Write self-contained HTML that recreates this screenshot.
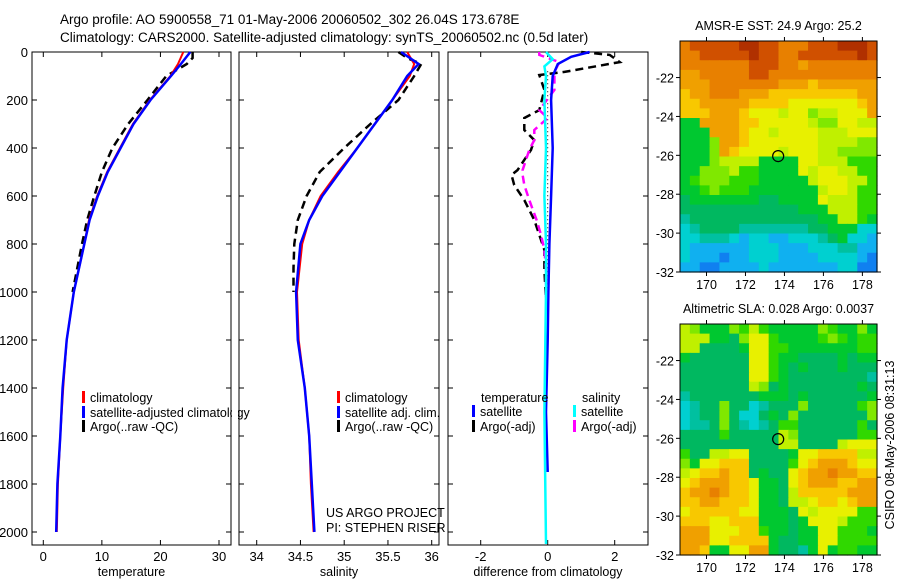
<!DOCTYPE html>
<html><head><meta charset="utf-8">
<style>
html,body{margin:0;padding:0;background:#fff;}
svg{display:block;font-family:"Liberation Sans",sans-serif;}
</style></head>
<body>
<svg id="chart" width="900" height="580" viewBox="0 0 900 580" xmlns="http://www.w3.org/2000/svg">
<rect width="900" height="580" fill="#fff"/>
<text x="60" y="24" font-size="13.5">Argo profile: AO 5900558_71 01-May-2006 20060502_302 26.04S 173.678E</text>
<text x="60" y="42" font-size="13.5">Climatology: CARS2000. Satellite-adjusted climatology: synTS_20060502.nc (0.5d later)</text>
<g id="g"></g>
</svg>
<script>
// ---------- data ----------
const depthTicks=[0,200,400,600,800,1000,1200,1400,1600,1800,2000];
const tempTicks=[0,10,20,30];
const salTicks=[34,34.5,35,35.5,36];
const salTickLabels=["34","34.5","35","35.5","36"];
const diffTicks=[-2,0,2];
const climDepth=[0,50,100,200,300,400,500,600,700,800,1000,1200,1400,1600,1800,2000];
const climTemp=[23.9,23.0,21.7,18.2,15.3,13.1,10.9,9.2,7.8,7.0,5.2,4.0,3.4,2.9,2.5,2.3];
const satTemp=[25.1,23.5,21.8,18.3,15.4,13.2,11.0,9.3,7.9,7.0,5.2,4.0,3.3,2.9,2.4,2.2];
const argoDepth=[0,25,50,100,200,300,400,500,600,700,800,900,1000];
const argoTemp=[25.5,25.5,24.5,21.0,17.8,14.5,11.8,10.0,8.7,7.5,6.6,5.8,5.0];
const climSal=[35.72,35.8,35.75,35.55,35.35,35.15,34.93,34.73,34.6,34.52,34.46,34.48,34.55,34.6,34.62,34.65];
const satSal=[35.65,35.85,35.72,35.55,35.35,35.15,34.95,34.75,34.6,34.5,34.45,34.47,34.55,34.6,34.63,34.66];
const argoSal=[35.62,35.72,35.88,35.8,35.62,35.3,35.0,34.72,34.57,34.47,34.43,34.42,34.42];
const diffDepth=[0,12,42,83,96,158,242,275,325,367,408,492,512,554,617,700,762,825,908,1033];
const diffArgoT=[1.0,1.85,2.15,0.5,-0.25,-0.1,-0.25,-0.7,-0.7,-0.4,-0.5,-0.9,-1.08,-1.0,-0.7,-0.4,-0.25,-0.1,-0.1,-0.05];
const diffArgoS=[-0.25,-0.25,0.35,0.2,0.2,0.2,-0.25,0,-0.4,-0.4,-0.55,-0.75,-0.75,-0.7,-0.55,-0.33,-0.2,-0.1,-0.05,-0.05];
const satDiffDepth=[0,20,50,100,200,400,600,800,1000,1200,1500,1750];
const satDiffT=[1.25,0.7,0.3,0.15,0.1,0.15,0.1,0.05,0.02,0,-0.05,0];
const satDiffSDepth=[0,30,60,100,200,400,600,800,1000,1500,2050];
const satDiffS=[-0.05,0.15,-0.1,-0.05,-0.1,-0.05,-0.1,-0.05,-0.05,-0.1,-0.05];
const mapLonTicks=[170,172,174,176,178];
const mapLatTicks=[-22,-24,-26,-28,-30,-32];
const palette=["#b03000","#d05000","#e88000","#f0a000","#f8c800","#e8f000","#c0f000","#80e800","#30d800","#00c830","#00b860","#00c0a0","#00d0d0","#10b0f0","#1080f0"];
const sstRows=["21111100112221110001","22111110112211111101","22222221112232222222","33222221122222222222","33322222223334333333","43322233344444444433","44333334444555555543","44433345556557665553","99333344555556775566","99933345565555666555","99973345555555666677","99973455556555667777","99976666999955666888","99777688999956556688","98777888999996555668","99878889999999655688","a9999999aa9999566688","aaaaaaaaaaaa99966688","baaaaaaaaaaaaa996689","cbaaaabbbbbbbaa999cc","ccbbbcdccddcccba9ccd","cddddddcccdddcccbbdd","cdddeddcccddddccccde","ddeeddddcdddddddccee"];
const slaRows=["67999786899999789979","66699a75589999878988","66aaaa95588999999988","9aaaaaa55899aaaa9a99","aaaaaaa5589a9aaa9aaa","aaaaaaa5589aaaaaaaab","aaaaaaa67a9aaaaaaa9a","baaaaaaa999a9aaaaaa9","cbaa7aacbaaa7aaaaa87","cbaa7acca9a7aaaaaaa7","cbba7abcba88aaaaaa8a","aaaa8aaaaa67aaaaaa88","aaaaaaaaaa66aaaa6555","8aa6655aaaa955444466","7955444aaaa854333455","6544344a9aa543323344","5433344599a543334433","4332344599a644444333","4433444599a665445433","54444455999a56555588","44455444999a95556888","33355544899a99558889","3335544449aa99558888","3349955339aab9598899"];
const floatLon=173.678, floatLat=-26.04;

// ---------- helpers ----------
const NS="http://www.w3.org/2000/svg";
const G=document.getElementById('g');
function mk(tag,attrs,parent){const e=document.createElementNS(NS,tag);for(const k in attrs)e.setAttribute(k,attrs[k]);(parent||G).appendChild(e);return e;}
const Y0=52,Y1=545;
function yD(d){return Y0+d*0.24;}
function linScale(d0,d1,r0,r1){return v=>r0+(v-d0)*(r1-r0)/(d1-d0);}
const panels=[
 {x0:32,x1:231,sx:linScale(0,30,43.3,219),ticks:tempTicks,labels:tempTicks.map(String),xlabel:"temperature",name:"temperature-panel"},
 {x0:239,x1:439,sx:linScale(34,36,256.7,431.7),ticks:salTicks,labels:salTickLabels,xlabel:"salinity",name:"salinity-panel"},
 {x0:448,x1:648,sx:linScale(-2,2,480.7,614.7),ticks:diffTicks,labels:diffTicks.map(String),xlabel:"difference from climatology",name:"difference-panel"}
];
function drawLine(p,xs,ds,color,w,dash,name){
  const pts=xs.map((v,i)=>p.sx(v).toFixed(1)+","+yD(ds[i]).toFixed(1)).join(" ");
  const e=mk('polyline',{points:pts,fill:'none',stroke:color,'stroke-width':w});
  if(dash)e.setAttribute('stroke-dasharray',dash);
  
  
}
panels.forEach((p,pi)=>{
  const g=mk('g',{});
  
  
  const fr=mk('rect',{x:p.x0,y:Y0,width:p.x1-p.x0,height:Y1-Y0,fill:'#fff',stroke:'#000','stroke-width':1},g);
  
  
  depthTicks.forEach(d=>{
    const y=yD(d);
    mk('line',{x1:p.x0,x2:p.x0+5,y1:y,y2:y,stroke:'#000'},g);
    mk('line',{x1:p.x1,x2:p.x1-5,y1:y,y2:y,stroke:'#000'},g);
    if(pi===0){const t=mk('text',{x:p.x0-4,y:y+5,'font-size':13,'text-anchor':'end'},g);t.textContent=d;
      
      }
  });
  p.ticks.forEach((v,i)=>{
    const x=p.sx(v);
    mk('line',{x1:x,x2:x,y1:Y1,y2:Y1-5,stroke:'#000'},g);
    mk('line',{x1:x,x2:x,y1:Y0,y2:Y0+5,stroke:'#000'},g);
    const t=mk('text',{x:x,y:Y1+16,'font-size':13,'text-anchor':'middle'},g);t.textContent=p.labels[i];
    
    
  });
  const xl=mk('text',{x:(p.x0+p.x1)/2,y:Y1+31,'font-size':12.5,'text-anchor':'middle'},g);xl.textContent=p.xlabel;
  
  
});
// temperature panel
drawLine(panels[0],argoTemp,argoDepth,'#000',2.5,'8,5','argo-temperature-line');
drawLine(panels[0],climTemp,climDepth,'#f00',2,null,'climatology-temperature-line');
drawLine(panels[0],satTemp,climDepth,'#00f',2.5,null,'satellite-temperature-line');
// salinity
drawLine(panels[1],argoSal,argoDepth,'#000',2.5,'8,5','argo-salinity-line');
drawLine(panels[1],climSal,climDepth,'#f00',2,null,'climatology-salinity-line');
drawLine(panels[1],satSal,climDepth,'#00f',2.5,null,'satellite-salinity-line');
// diff
const zl=mk('line',{x1:panels[2].sx(0),x2:panels[2].sx(0),y1:yD(80),y2:yD(1000),stroke:'#000','stroke-dasharray':'1,3'});


drawLine(panels[2],diffArgoT,diffDepth,'#000',2.5,'8,5','argo-temperature-difference-line');
drawLine(panels[2],diffArgoS,diffDepth,'#f0f',2.5,'8,5','argo-salinity-difference-line');
drawLine(panels[2],satDiffT,satDiffDepth,'#00f',2.5,null,'satellite-temperature-difference-line');
drawLine(panels[2],satDiffS,satDiffSDepth,'#0ff',2.5,null,'satellite-salinity-difference-line');

// legends
function legend(items,name){
  const g=mk('g',{});
  
  
  items.forEach(it=>{
    if(it.c){mk('rect',{x:it.x,y:it.y-11,width:3,height:12,fill:it.c},g);}
    const t=mk('text',{x:it.x+(it.c?8:0),y:it.y,'font-size':12.5},g);t.textContent=it.t;
    
    
  });
}
legend([{x:82,y:402,c:'#f00',t:'climatology'},{x:82,y:417,c:'#00f',t:'satellite-adjusted climatology'},{x:82,y:431,c:'#000',t:'Argo(..raw -QC)'}],'temperature-legend');
legend([{x:337,y:402,c:'#f00',t:'climatology'},{x:337,y:417,c:'#00f',t:'satellite adj. clim.'},{x:337,y:431,c:'#000',t:'Argo(..raw -QC)'}],'salinity-legend');
legend([{x:481,y:402,t:'temperature'},{x:472,y:416,c:'#00f',t:'satellite'},{x:472,y:431,c:'#000',t:'Argo(-adj)'},
        {x:582,y:402,t:'salinity'},{x:573,y:416,c:'#0ff',t:'satellite'},{x:573,y:431,c:'#f0f',t:'Argo(-adj)'}],'difference-legend');
// clip legend overflow in panel 1
const cover=mk('rect',{x:232,y:400,width:6,height:20,fill:'#fff'});


const c1=mk('text',{x:326,y:517,'font-size':12.5});c1.textContent='US ARGO PROJECT';


const c2=mk('text',{x:326,y:532,'font-size':12.5});c2.textContent='PI: STEPHEN RISER';



// maps
function drawMap(rows,top,title,name){
  const x0=680,x1=877,y0=top,y1=top+231;
  const lon=linScale(168.64,178.75,x0,x1);
  const lat=linScale(-20.12,-32,y0,y1);
  const g=mk('g',{});
  
  
  const nr=rows.length,nc=rows[0].length,cw=(x1-x0)/nc,ch=(y1-y0)/nr;
  rows.forEach((r,ri)=>{for(let ci=0;ci<nc;ci++){
    const c=mk('rect',{x:(x0+ci*cw).toFixed(2),y:(y0+ri*ch).toFixed(2),width:(cw+0.6).toFixed(2),height:(ch+0.6).toFixed(2),fill:palette[parseInt(r[ci],16)]},g);
    
    
  }});
  const f=mk('rect',{x:x0,y:y0,width:x1-x0,height:y1-y0,fill:'none',stroke:'#000'},g);
  
  
  mapLatTicks.forEach(v=>{const y=lat(v);
    mk('line',{x1:x0-4,x2:x0,y1:y,y2:y,stroke:'#000'},g);
    mk('line',{x1:x1,x2:x1+4,y1:y,y2:y,stroke:'#000'},g);
    const t=mk('text',{x:x0-6,y:y+5,'font-size':12.5,'text-anchor':'end'},g);t.textContent=String(v).replace('-','\u2212').replace('\u2212','-');
    
    });
  mapLonTicks.forEach(v=>{const x=lon(v);
    mk('line',{x1:x,x2:x,y1:y1,y2:y1+4,stroke:'#000'},g);
    mk('line',{x1:x,x2:x,y1:y0,y2:y0-4,stroke:'#000'},g);
    const t=mk('text',{x:x,y:y1+17,'font-size':12.5,'text-anchor':'middle'},g);t.textContent=v;
    
    });
  const m=mk('circle',{cx:lon(floatLon),cy:lat(floatLat),r:5.5,fill:'none',stroke:'#000','stroke-width':1.2},g);
  
  
  const t=mk('text',{x:(x0+x1)/2,y:y0-11,'font-size':12.5,'text-anchor':'middle'},g);t.textContent=title;
  
  
}
drawMap(sstRows,41,'AMSR-E SST: 24.9 Argo: 25.2','sst-map');
drawMap(slaRows,324,'Altimetric SLA: 0.028 Argo: 0.0037','sla-map');
const vt=mk('text',{x:0,y:0,'font-size':12.5,'text-anchor':'middle',transform:'translate(894,445) rotate(-90)'});
vt.textContent='CSIRO 08-May-2006 08:31:13';


</script>
</body></html>
